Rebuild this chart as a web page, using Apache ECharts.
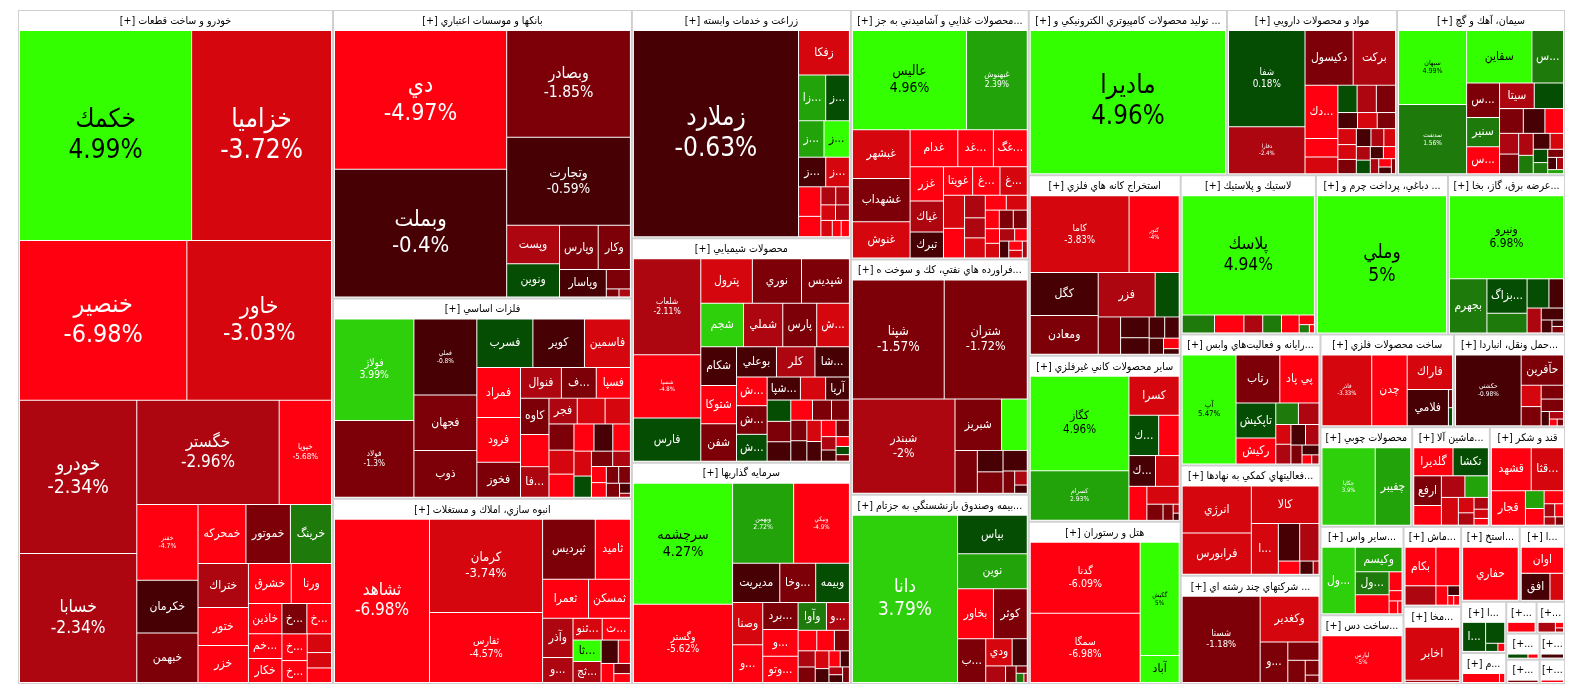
<!DOCTYPE html>
<html>
<head>
<meta charset="utf-8">
<title>نقشه بازار</title>
<script src="https://cdn.jsdelivr.net/npm/echarts@6/dist/echarts.min.js"></script>
<style>
    html, body { margin: 0; padding: 0; background: #fff; }
    #main { width: 1584px; height: 698px; }
</style>
</head>
<body>
<div id="main"></div>
<script>
// گروه ها (صنایع) و اندازه هر گروه
var sectorNames = [
    'خودرو و ساخت قطعات',
    'بانكها و موسسات اعتباري',
    'فلزات اساسي',
    'انبوه سازي، املاك و مستغلات',
    'زراعت و خدمات وابسته',
    'محصولات شيميايي',
    'سرمايه گذاريها',
    'محصولات غذايي و آشاميدني به جز قند و شكر',
    'فراورده هاي نفتي، كك و سوخت هسته اي',
    'بيمه وصندوق بازنشستگي به جزتامين اجتماعي',
    'توليد محصولات كامپيوتري الكترونيكي و نوري',
    'مواد و محصولات دارويي',
    'سيمان، آهك و گچ',
    'استخراج كانه هاي فلزي',
    'ساير محصولات كاني غيرفلزي',
    'هتل و رستوران',
    'لاستيك و پلاستيك',
    'دباغي، پرداخت چرم و ساخت انواع پاپوش',
    'عرضه برق، گاز، بخار و آب گرم',
    'رايانه و فعاليت‌هاي وابسته به آن',
    'فعاليتهاي كمكي به نهادهاي مالي واسط',
    'شركتهاي چند رشته اي صنعتي',
    'ساخت محصولات فلزي',
    'حمل ونقل، انبارداري و ارتباطات',
    'محصولات چوبي',
    'ماشين آلات و تجهيزات',
    'قند و شكر',
    'ساير واسطه گريهاي مالي',
    'ساخت دستگاه‌ها و وسايل ارتباطي',
    'ماشين آلات و دستگاه‌هاي برقي',
    'مخابرات',
    'استخراج نفت گاز و خدمات جنبي جز اكتشاف',
    'اطلاعات و ارتباطات',
    'ابزارپزشكي، اپتيكي و اندازه‌گيري',
    'منسوجات',
    'محصولات كاغذي',
    'خدمات فني و مهندسي',
    'تجارت عمده فروشي',
    'انتشار، چاپ و تكثير',
    'حمل و نقل آبي',
    'اوراق بهادار مبتني بر دارايي فكري'
];
var sectorSizes = [212000, 86100, 59800, 55300, 49900, 49100, 48400, 44300, 41800, 33600,
    32700, 28050, 27700, 27400, 25200, 24600, 21500, 21000, 18600, 18300,
    15400, 15100, 12400, 10300, 9100, 7700, 7450, 7350, 5700, 4600,
    4450, 4400, 3400, 2300, 1400, 960, 900, 870, 810, 660, 620];

// نماد، ارزش، درصد تغییر
var autoStocks = [['خكمك',35800,4.99],['خزاميا',29100,-3.72],['خنصير',26500,-6.98],['خاور',22900,-3.03],['خودرو',17800,-2.34],['خسابا',15000,-2.34],['خگستر',14700,-2.96],['خپويا',5400,-5.68],['خفنر',4600,-4.7],['خكرمان',3200,-0.52],['خبهمن',3000,-1.46],['خمحركه',2800,-5.1],['خموتور',2600,-1.62],['خرينگ',2400,1.45],['ختراك',2200,-2.41],['ختور',1900,-4.85],['خزر',1850,-5.3],['خشرق',1700,-4.4],['ورنا',1600,-4.95],['خاذين',1000,-4.6],['خمحور',820,-4.7],['خكار',800,-5.2],['خچرخش',750,-1.3],['خمهر',740,-4.3],['خريخت',670,-4.9],['خصدرا',550,-4.4],['خلنت',450,-3.5],['خفولا',370,-3.2],['خديزل',350,-4.1]];
var bankStocks = [['دي',23500,-4.97],['وبملت',21600,-0.4],['وبصادر',13000,-1.85],['وتجارت',10700,-0.59],['وپست',2000,-2.6],['ونوين',1720,0.5],['وپارس',1680,-1.4],['وكار',1400,-1.3],['وپاسار',1260,-0.7],['وسينا',460,-1.2],['وكوثر',100,-1.5],['وسرمد',90,-2.2]];
var metalStocks = [['فولاژ',7400,3.99],['فولاد',5600,-1.3],['فملي',4400,-0.8],['فجهان',3200,-1.55],['ذوب',2700,-1.7],['فسرب',2500,0.45],['كوير',2300,-0.35],['فاسمين',2050,-3.3],['فمراد',2000,-4.6],['فرود',1800,-4.9],['فخوز',1400,-1.25],['فنوال',1150,-2.6],['فسازان',980,-1.5],['فسپا',960,-4.7],['كاوه',950,-1.8],['فباهنر',840,-4.4],['فاهواز',800,-2.7],['فجر',670,-2.3],['فرآور',660,-3.6],['فلوله',600,-1.4],['فايرا',600,-3.5],['فروس',550,-3.2],['فكاوه',530,-4.1],['فگستر',500,-4.2],['فخاس',470,-0.6],['فالوم',440,-4.5],['فزرين',400,-3.7],['فنورد',340,0.7],['فسديد',300,-1.6],['فتوسا',250,-2.2],['فافزا',220,-4.3],['فپنتا',200,-4.8],['فرآوري',190,-1.1],['فاما',180,-1.9],['فمالي',170,-1.3],['فغدير',100,-0.4],['فبيرا',40,-2.5]];
var buildStocks = [['ثشاهد',14700,-6.98],['كرمان',10000,-3.74],['ثفارس',7500,-4.57],['ثپرديس',3000,-1.6],['ثاميد',2000,-4.5],['ثعمرا',1700,-4.8],['ثمسكن',1550,-5.1],['وآذر',1130,-2.4],['وساخت',720,-2.2],['ثنوسا',600,-3.3],['ثشرق',580,-4.6],['ثالوند',570,4.6],['ثجنوب',560,-2.8],['ثباغ',380,-0.7],['ثتران',270,-4.4],['ثرود',230,-5],['ثبهساز',160,-1.9],['ثزاگرس',140,-4.2]];
var agriStocks = [['زملارد',33000,-0.63],['زفكا',2200,-3.5],['زاگرس',1200,2.4],['زكشت',1050,0.6],['زماهان',900,4.5],['زشريف',900,2.2],['زقيام',780,-0.8],['زپارس',680,-3.4],['زكوثر',640,-4.6],['زشگزا',440,-4.4],['زمگسا',260,-2.5],['زدشت',240,-2.7],['زبينا',220,-3.3],['زفجر',210,-2.4],['زنگان',180,-3.6],['زگلدشت',140,-4.9],['زآغاز',130,-5.2]];
var chemStocks = [['شلعاب',5900,-2.11],['شسپا',3900,-4.8],['فارس',2650,0.4],['پترول',2100,-3.4],['نوري',2000,-1.5],['شپديس',1950,-1.7],['شجم',1700,3.5],['شملي',1560,-2.6],['پارس',1350,-1.2],['شگويا',1300,-3.6],['شكام',1260,-0.7],['شتوكا',1250,-4.7],['شفن',1220,-1.4],['بوعلي',1100,-0.5],['كلر',1060,-2.3],['شاراك',950,-0.3],['شخارك',800,-1.6],['شيراز',800,-4.4],['شبهرن',750,0.5],['شپاكسا',700,-0.6],['شصدف',530,-3.2],['آريا',500,-0.9],['شاروم',460,0.8],['شكلر',440,-1.3],['شغدير',420,-0.4],['شسينا',400,-4.3],['شپارس',350,-1.8],['شفارس',330,-1.2],['شاوان',300,-0.6],['شرنگي',300,-1.9],['شمواد',280,-3.1],['شيران',260,-0.2],['شوينده',220,-4.6],['شزنگ',200,-1.7],['شفارا',180,-2.4],['شبصير',150,-0.5],['شصفها',120,-4.1],['شالوم',100,0.9],['شكربن',80,-1.1]];
var investStocks = [['سرچشمه',11300,4.27],['وگستر',7300,-5.62],['وبهمن',4600,2.72],['ونيكي',4200,-4.9],['مديريت',1750,-0.8],['وخارزم',1330,-1.6],['وبيمه',1250,0.4],['وصنا',1200,-3.5],['وسپه',1070,-4.4],['برديس',900,-1.5],['وصندوق',890,-4.6],['وتوسم',870,-4.2],['وآوا',740,1.6],['وسكاب',600,-2.3],['وامين',360,-4.8],['وسبحان',340,-4.5],['وتوكا',290,-1.7],['ونفت',260,-2.2],['وسمگا',250,-1.4],['وسنا',230,-3.3],['وسديد',180,-0.5],['وسپهر',170,-4.3],['وسكار',140,-0.7],['وكادو',100,-1.8],['وثوق',100,-0.6],['ومشان',100,-2.6]];
var foodStocks = [['عاليس',10900,4.96],['غبهنوش',5800,2.39],['غبشهر',2700,-3.5],['غشهداب',2400,-1.5],['غنوش',2000,-3.3],['غدام',1690,-4.8],['غدشت',1260,-4.5],['غگرجي',1200,-4.6],['غزر',1100,-4.7],['غياك',1000,-2.5],['تبرك',830,-0.6],['غويتا',800,-4.4],['غپاك',750,-3.6],['غمارگ',750,-4.3],['غصينو',670,-3.4],['غمينو',600,-4.5],['غكورش',450,-2.6],['غپينو',400,-3.2],['غسالم',400,-2.4],['غشاذر',300,-3.7],['غفارس',300,-4.6],['غمهرا',250,-1.6],['غالبر',250,-1.3],['غچين',250,-4.4],['غاذر',200,-3.5],['غشصفا',200,-4.9],['غزاگرس',180,-2.2],['غپونه',150,-0.7],['غدانه',150,-4.1],['غپآذر',120,-4.5],['غگل',100,-3.1],['غمهر',80,-2.9]];
var oilStocks = [['شپنا',10500,-1.57],['شتران',9500,-1.72],['شبندر',9300,-2],['شبريز',2300,-1.6],['شرانل',1270,4.6],['شپاس',920,-1.4],['شتهران',530,-1.8],['شاملا',530,-0.4],['شبنا',480,-0.7],['شنفت',250,-1.3],['شلرد',170,-2.5],['شدوص',100,-0.3]];
var insureStocks = [['دانا',17100,3.79],['بپاس',2600,0.7],['نوين',2380,2.3],['بخاور',1740,-4.6],['كوثر',1640,-1.6],['بساما',1200,-1.3],['ودي',700,-3.7],['البرز',400,-0.5],['آسيا',320,-2.4],['ملت',170,-1.5],['تعاون',80,-1.7],['اتكاي',70,1.6],['حافظ',30,-2.2]];
var computerStocks = [['ماديرا',27900,4.96]];
var pharmaStocks = [['شفا',7000,0.18],['دفارا',3400,-2.4],['دكيسول',2500,-1.8],['بركت',2200,-2.6],['دكيمي',1660,-4.6],['دتماد',580,-4.4],['دجابر',520,-3.4],['دسبحا',500,-1.5],['دلر',500,-2.2],['دشيمي',500,0.6],['دالبر',300,-3.5],['دعبيد',300,-0.5],['ديران',280,-3.8],['دفرا',280,-1.6],['دزهراوي',260,-3.3],['دسينا',250,-0.8],['داوه',250,-1.2],['دتوليد',220,-2.7],['دكوثر',200,-3.6],['دپارس',180,0.5],['دارو',180,-2.3],['دروز',150,-0.4],['دامين',140,-4.6],['دابور',120,-2.8],['داسوه',100,-4.4],['دقاضي',80,-0.7],['دسانكو',60,-1.9]];
var cementStocks = [['سبهان',4700,4.99],['سدشت',4400,1.56],['سقاين',3200,4.6],['سخزر',1550,1.4],['سخاش',1060,-1.5],['سنير',900,1.7],['سيتا',830,-2.5],['سصفها',830,-4.7],['سفار',700,0.5],['سشمال',550,-1.4],['سغرب',500,-0.6],['سهرمز',430,-4.5],['سكرما',370,-2.3],['سفانو',350,-1.7],['سبجنو',300,-2.6],['ساروم',250,-0.8],['سيلام',250,1.2],['سفارس',200,-3.4],['سمازن',180,0.3],['سخوز',150,1.8],['سبزوا',120,-1.5],['ساذري',100,-0.6],['سشرق',80,-2.1],['سكرد',60,2.5]];
var oreStocks = [['كاما',6900,-3.83],['كنور',3500,-4],['كگل',2650,-0.6],['ومعادن',2400,-1.5],['فزر',2300,-2.3],['كچاد',970,0.5],['كدما',760,-1.2],['كرماشا',540,-0.4],['كسعدي',430,-0.8],['كروي',300,-0.6],['كمنگنز',280,-0.3],['كترام',210,-0.5],['كپرور',150,-4.4],['كالبر',80,-0.9]];
var mineralStocks = [['كگاز',8550,4.96],['كسرام',4500,2.93],['كسرا',1800,-3.4],['كساپا',1100,0.6],['كفپارس',760,-4.6],['كخاك',750,-0.7],['كلوند',670,-3.3],['كرازي',560,-4.5],['كباده',530,-3.6],['كفرا',240,-1.4],['كاذر',150,-1.7],['كهمدا',50,-2.5],['كتوكا',40,-0.4]];
var hotelStocks = [['گدنا',7600,-6.09],['سمگا',7400,-6.98],['گكيش',4300,5],['آباد',1030,4.8]];
var rubberStocks = [['پلاسك',15000,4.94],['پكرمان',550,1.5],['پارتا',500,-4.6],['پدرخش',320,1.3],['پسهند',320,-2.4],['پكوير',300,-4.8],['پتاير',140,-4.3],['پاكشو',80,1.1],['پشاهن',40,-4.5]];
var leatherStocks = [['وملي',17500,5]];
var powerStocks = [['ونيرو',8900,6.98],['بجهرم',1900,1.4],['بزاگرس',1300,0.5],['آبادا',740,1.6],['بكهنوج',600,0.7],['بمپنا',400,-0.6],['بنيرو',330,-2.4],['بپيوند',250,-0.5],['بسويچ',130,-0.8],['برق',70,-1.3],['بفجر',70,-0.2]];
var itStocks = [['آپ',5300,5.47],['رتاب',1900,-1.3],['پي پاد',1700,-4.6],['تاپكيش',1260,0.6],['ركيش',930,-4.4],['مرقام',440,1.5],['سپ',400,-2.3],['فن آوا',270,-0.8],['اسياتك',270,-2.6],['سيستم',270,-3.4],['مفاخر',250,-2.2],['پرداخت',190,-1.4],['افرانت',150,-0.6],['رافزا',80,-4.3],['مداران',60,-2.1]];
var finAuxStocks = [['انرژي',2950,-3.3],['فرابورس',2600,-3.5],['كالا',2300,-3.6],['اطلس',1250,-3.2],['نيان',730,-0.4],['لوتوس',660,-2.5],['بورس',260,-4.3],['سپيد',160,-0.7],['آرمان',70,-2.2]];
var multiStocks = [['شستا',6600,-1.18],['وكغدير',2640,-3.4],['وصنعت',1100,-1.5],['وپترو',560,-1.7],['واتي',380,-1.2],['والبر',200,-1.6],['وتوصا',100,-1.4]];
var metalProdStocks = [['فاذر',3300,-3.33],['چدن',2350,-4.8],['فاراك',1470,-3.2],['فلامي',1400,-0.7],['فنرژي',70,0.9],['فجوش',70,-1.5]];
var transportStocks = [['حكشتي',4350,-0.98],['حآفرين',1200,-1.4],['حپترو',400,-3.6],['حفارس',360,-1.6],['حسينا',290,-1.2],['حتوكا',260,-1.8],['حريل',110,-0.5],['حسير',100,-2.4],['حپارسا',50,-4.4],['حتايد',40,-1.3]];
var woodStocks = [['چكاپا',3900,3.9],['چفيبر',2600,2.6]];
var machineStocks = [['گلديرا',910,-4.6],['تكشا',820,0.5],['ارفع',680,-1.5],['تيپيكو',450,-4.7],['تپمپي',420,2.4],['تمحركه',420,-2.6],['تليسه',390,-3.5],['تجلي',200,-3.3],['تكمبا',160,-2.5],['ماشين',140,-2.2],['تفيرو',110,-3.7],['تاصيكو',80,-4.5]];
var sugarStocks = [['قشهد',1480,-4.6],['قثابت',1200,-3.5],['قجار',1020,-4.8],['قزوين',290,2.3],['قمرو',270,-4.2],['قنيشا',220,-4.5],['قاسم',120,-2.6],['قهكمت',100,-4.4],['قلرست',80,-2.3],['قپيرا',60,-1.5]];
var finOtherStocks = [['ولصنم',2000,3.5],['وكيسم',1040,2.5],['ولساپا',700,1.6],['ولملت',580,-4.6],['ولپارس',220,-4.5],['ولبهمن',120,-4.8],['ولغدر',100,-4.3],['وتوس',50,-4.9]];
var commDevStocks = [['لپارس',4100,-5]];
var elecMachStocks = [['بكام',1040,-4.7],['بموتو',800,-4.4],['بترانس',520,-2.5],['بشهاب',200,-4.6],['بالبر',100,-0.5],['بتك',50,-4.2],['بنو',50,-4.8]];
var telecomStocks = [['اخابر',2850,-3.5],['همراه',120,-2.4]];
var oilExtStocks = [['حفاري',2800,-6.6]];
var infoStocks = [['اوان',1000,-4.6],['افق',700,-0.7],['ارتباط',330,-3.3]];
var medicalStocks = [['اپتيك',600,0.6],['اطبا',360,0.4],['اسكن',90,0.7],['اطس',50,-4.5]];
var textileStocks = [['نساجي',350,-4.7],['نطرين',50,-4.4]];
var paperStocks = [['چكارن',300,-4.6]];
var techStocks = [['فني',150,-2.6],['خدمات',40,-4.5],['مهندسي',30,-2.4]];
var tradeStocks = [['تجارت',40,0.6],['عمده',20,-4.4]];
var printStocks = [['چاپ',50,-1.5]];
var shipStocks = [['كشتي',20,-0.5]];
var ipStocks = [['فكري',40,-4.6]];

var sectorStocks = [autoStocks, bankStocks, metalStocks, buildStocks, agriStocks, chemStocks, investStocks,
    foodStocks, oilStocks, insureStocks, computerStocks, pharmaStocks, cementStocks, oreStocks, mineralStocks,
    hotelStocks, rubberStocks, leatherStocks, powerStocks, itStocks, finAuxStocks, multiStocks, metalProdStocks,
    transportStocks, woodStocks, machineStocks, sugarStocks, finOtherStocks, commDevStocks, elecMachStocks,
    telecomStocks, oilExtStocks, infoStocks, medicalStocks, textileStocks, paperStocks, techStocks, tradeStocks,
    printStocks, shipStocks, ipStocks];

// رنگ خانه بر اساس درصد تغییر
function cellColor(chg) {
    if (chg >= 4) return '#33ff00';
    if (chg >= 3) return '#2ed00b';
    if (chg >= 2) return '#22a30a';
    if (chg >= 1) return '#1e7b0b';
    if (chg > 0) return '#064d04';
    if (chg > -1) return '#470004';
    if (chg > -2) return '#7d0008';
    if (chg > -3) return '#ad0610';
    if (chg > -4) return '#d6060f';
    return '#ff0010';
}

var PCT_MIN = 3300;
var FONT = "'DejaVu Sans Condensed', 'DejaVu Sans', sans-serif";
var HEAD_SIZE = 10.6;
var HEAD_PAD = 3;
var CELL_PAD = 3;

function leafFont(size) {
    return size >= PCT_MIN ? Math.max(6, Math.min(26, 0.19 * Math.sqrt(size) - 6)) : 12;
}

function leaf(s) {
    var size = s[1], chg = s[2];
    var fs = leafFont(size);
    return {
        name: s[0],
        value: size,
        chg: chg,
        itemStyle: {color: cellColor(chg)},
        label: {fontSize: fs, lineHeight: Math.round(fs * 1.2), color: chg >= 4 ? '#000' : '#fff'}
    };
}

var treeData = [];
sectorNames.forEach(function (name, i) {
    treeData.push({name: name, value: sectorSizes[i], children: sectorStocks[i].map(leaf)});
});

// متن کوتاه شده هر خانه (بعد از چیدمان اول پر می شود)
var fitted = {};

var option = {
    animation: false,
    series: [{
        type: 'treemap',
        left: 18,
        top: 10,
        width: 1547,
        height: 674,
        squareRatio: 1,
        roam: false,
        nodeClick: false,
        breadcrumb: {show: false},
        data: treeData,
        label: {
            show: true,
            position: 'inside',
            padding: CELL_PAD,
            overflow: 'none',
            fontFamily: FONT,
            formatter: function (p) {
                if (fitted[p.dataIndex] != null) return fitted[p.dataIndex];
                var d = p.data;
                return d.value >= PCT_MIN ? p.name + '\n' + d.chg + '%' : p.name;
            }
        },
        levels: [
            {
                itemStyle: {borderColor: '#d0d0d0', borderWidth: 1, gapWidth: 2}
            },
            {
                itemStyle: {borderColor: '#fff', borderWidth: 1, gapWidth: 1},
                upperLabel: {
                    show: true,
                    height: 20,
                    position: 'inside',
                    padding: [0, HEAD_PAD],
                    overflow: 'none',
                    color: '#000',
                    fontSize: HEAD_SIZE,
                    fontFamily: FONT,
                    formatter: function (p) {
                        if (fitted[p.dataIndex] != null) return fitted[p.dataIndex];
                        return '[+] ' + p.name;
                    }
                }
            },
            {
                itemStyle: {borderWidth: 0, gapWidth: 0}
            }
        ]
    }]
};

var myChart = echarts.init(document.getElementById('main'));
myChart.setOption(option);

// کوتاه کردن متن ها با اندازه گیری واقعی عرض
var ctx = document.createElement('canvas').getContext('2d');
function fitLine(text, fs, maxW, minChars) {
    ctx.font = fs + 'px ' + FONT;
    if (ctx.measureText(text).width <= maxW) return text;
    var t = text;
    while (t.length > minChars && ctx.measureText(t + '...').width > maxW) {
        t = t.slice(0, -1);
    }
    if (minChars < 2 && ctx.measureText(t + '...').width > maxW) return '';
    return t + '...';
}

var tree = myChart.getModel().getSeriesByIndex(0).getData().tree;
tree.root.eachNode(function (node) {
    if (node === tree.root) return;
    var lay = node.getLayout();
    if (!lay) return;
    if (node.depth === 1) {
        var w = lay.width - 2 * lay.borderWidth - 2 * HEAD_PAD;
        fitted[node.dataIndex] = fitLine('[+] ' + node.name, HEAD_SIZE, w, 2);
    } else {
        var item = tree.data.getRawDataItem(node.dataIndex);
        var fs = leafFont(item.value);
        var cw = lay.width - 2 * CELL_PAD;
        var txt = fitLine(item.name, fs, cw, 1);
        if (item.value >= PCT_MIN) txt += '\n' + fitLine(item.chg + '%', fs, cw, 1);
        fitted[node.dataIndex] = txt;
    }
});
myChart.setOption(option, true);
</script>
</body>
</html>
